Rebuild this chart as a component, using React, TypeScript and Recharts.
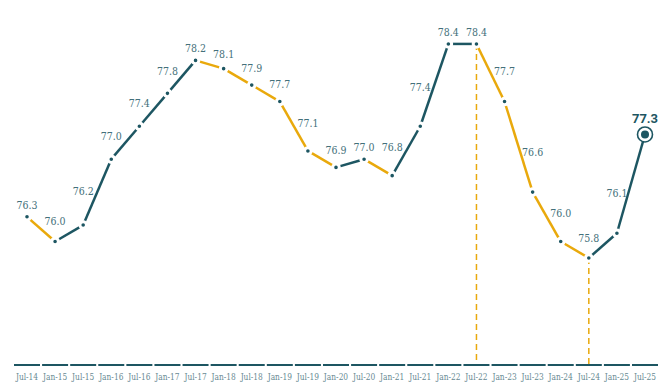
import { Line, LineChart, ReferenceLine, XAxis, YAxis } from "recharts";

const periods = [
  "Jul-14", "Jan-15", "Jul-15", "Jan-16", "Jul-16", "Jan-17", "Jul-17", "Jan-18",
  "Jul-18", "Jan-19", "Jul-19", "Jan-20", "Jul-20", "Jan-21", "Jul-21", "Jan-22",
  "Jul-22", "Jan-23", "Jul-23", "Jan-24", "Jul-24", "Jan-25", "Jul-25",
];

const values = [
  76.3, 76.0, 76.2, 77.0, 77.4, 77.8, 78.2, 78.1, 77.9, 77.7, 77.1, 76.9, 77.0,
  76.8, 77.4, 78.4, 78.4, 77.7, 76.6, 76.0, 75.8, 76.1, 77.3,
];

const markedPeriods = ["Jul-22", "Jul-24"];

const TEAL = "#1d5662";
const GOLD = "#e9a90c";
const LABEL = "#43707a";
const TICK = "#688a93";
const SERIF = "'DejaVu Serif Condensed', 'DejaVu Serif', serif";

type Row = Record<string, string | number | null>;

const segmentKeys = values.slice(1).map((_, i) => `seg${i}`);

const rows: Row[] = periods.map((period, i) => {
  const row: Row = { period, value: values[i] };
  segmentKeys.forEach((key, s) => {
    row[key] = s === i || s + 1 === i ? values[i] : null;
  });
  return row;
});

// lift labels away from steep neighbouring segments
function labelLift(i: number): number {
  const v = values[i];
  const left = i > 0 ? values[i - 1] - v : 0;
  const right = i < values.length - 1 ? values[i + 1] - v : 0;
  const rise = Math.max(0, left, right);
  return Math.min(40, 12 + 27 * rise);
}

function AxisTick(props: any) {
  const { x, y, payload } = props;
  return (
    <g>
      <line x1={x - 13} x2={x + 13} y1={y} y2={y} stroke={TEAL} strokeWidth={2} />
      <text
        x={x}
        y={y + 15}
        textAnchor="middle"
        fontSize={8.3}
        fontFamily={SERIF}
        fill={TICK}
      >
        {payload.value}
      </text>
    </g>
  );
}

function PointDot(props: any) {
  const { cx, cy, index } = props;
  if (cx == null || cy == null) return null;
  if (index === values.length - 1) {
    return (
      <g key={`dot-${index}`}>
        <circle cx={cx} cy={cy} r={7.5} fill="#fff" stroke={TEAL} strokeWidth={1.6} />
        <circle cx={cx} cy={cy} r={4} fill={TEAL} />
      </g>
    );
  }
  return (
    <circle
      key={`dot-${index}`}
      cx={cx}
      cy={cy}
      r={3.3}
      fill={TEAL}
      stroke="#fff"
      strokeWidth={3}
    />
  );
}

function PointLabel(props: any) {
  const { x, y, index, value } = props;
  if (x == null || y == null) return null;
  if (index === values.length - 1) {
    return (
      <text
        x={x}
        y={y - 11}
        textAnchor="middle"
        fontSize={13}
        fontWeight={700}
        fontFamily="Roboto, 'Noto Sans', sans-serif"
        fill={TEAL}
      >
        {Number(value).toFixed(1)}
      </text>
    );
  }
  return (
    <text
      x={x}
      y={y - labelLift(index) + 4}
      textAnchor="middle"
      fontSize={10.5}
      fontFamily={SERIF}
      fill={LABEL}
    >
      {Number(value).toFixed(1)}
    </text>
  );
}

export default function App() {
  return (
    <div style={{ position: "absolute", left: 0, top: 0, background: "#fff" }}>
      <LineChart
        width={672}
        height={392}
        data={rows}
        margin={{ top: 11, right: 13, bottom: 0, left: 13 }}
      >
        <XAxis
          dataKey="period"
          interval={0}
          height={27}
          axisLine={false}
          tickLine={false}
          tickSize={0}
          tickMargin={0}
          padding={{ left: 14, right: 14 }}
          tick={<AxisTick />}
        />
        <YAxis hide domain={[74.5, 78.8]} />
        {markedPeriods.map((p) => (
          <ReferenceLine
            key={p}
            segment={[
              { x: p, y: values[periods.indexOf(p)] },
              { x: p, y: 74.5 },
            ]}
            stroke={GOLD}
            strokeWidth={1.5}
            strokeDasharray="6 4"
          />
        ))}
        {segmentKeys.map((key, s) => (
          <Line
            key={key}
            dataKey={key}
            stroke={values[s + 1] < values[s] ? GOLD : TEAL}
            strokeWidth={2.5}
            dot={false}
            activeDot={false}
            connectNulls={false}
            isAnimationActive={false}
          />
        ))}
        <Line
          dataKey="value"
          stroke="none"
          dot={<PointDot />}
          activeDot={false}
          label={<PointLabel />}
          isAnimationActive={false}
        />
      </LineChart>
    </div>
  );
}
